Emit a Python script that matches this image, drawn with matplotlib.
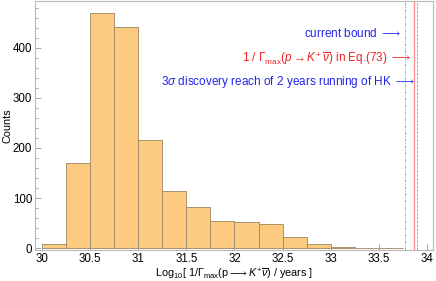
import matplotlib.pyplot as plt
import numpy as np

# histogram of log10 lifetimes, bin width 0.25 starting at 30
bin_edges = [30.0, 30.25, 30.5, 30.75, 31.0, 31.25, 31.5, 31.75, 32.0,
             32.25, 32.5, 32.75, 33.0, 33.25, 33.5, 33.75]
counts = [9, 171, 469, 441, 215, 114, 82, 55, 52, 48, 22, 8, 3, 1, 1]

current_bound = 33.77
gamma_max = 33.87
hk_reach = 33.90

xticks = [30, 30.5, 31, 31.5, 32, 32.5, 33, 33.5, 34]
xticklabels = ["30", "30.5", "31", "31.5", "32", "32.5", "33", "33.5", "34"]
yticks = [0, 100, 200, 300, 400]

plt.rcParams["font.family"] = ["Liberation Sans", "DejaVu Sans"]
plt.rcParams["mathtext.fontset"] = "custom"
plt.rcParams["mathtext.rm"] = "Liberation Sans"
plt.rcParams["mathtext.it"] = "Liberation Sans:italic"
plt.rcParams["mathtext.bf"] = "Liberation Sans:bold"
plt.rcParams["mathtext.fallback"] = "stixsans"

fig = plt.figure(figsize=(4.36, 2.81), dpi=100)
ax = fig.add_axes([0.080, 0.110, 0.913, 0.887])

edges = np.array(bin_edges)
ax.bar(edges[:-1], counts, width=np.diff(edges), align="edge",
       color="#fdcb80", edgecolor="#9a8660", linewidth=0.6)

ax.axvline(current_bound, color="#9a9ae8", lw=0.7, ls=(0, (3, 1.5, 1, 1.5)))
ax.axvline(gamma_max, color="#ff8a8a", lw=0.9)
ax.axvline(hk_reach, color="#9a9ae8", lw=0.7, ls=(0, (2.5, 1.5)))

ax.text(current_bound - 0.03, 428, r"current bound $\longrightarrow$", color="#2222ee",
        fontsize=8.5, ha="right", va="center")
ax.text(gamma_max - 0.03, 378,
        r"1 / $\Gamma_{\rm max}(p \rightarrow K^{+}\,\overline{\nu})$ in Eq.(73) $\longrightarrow$",
        color="#ee2222", fontsize=8.5, ha="right", va="center")
ax.text(hk_reach - 0.02, 332,
        r"3$\sigma$ discovery reach of 2 years running of HK $\longrightarrow$",
        color="#2222ee", fontsize=8.5, ha="right", va="center")

ax.set_xlim(29.927, 34.062)
ax.set_ylim(-4, 494)
ax.set_xticks(xticks)
ax.set_xticklabels(xticklabels)
ax.set_yticks(yticks)
ax.set_yticks(np.arange(0, 481, 20), minor=True)
ax.tick_params(which="both", direction="in", colors="#999999", labelcolor="black",
               labelsize=8.3, width=0.6)
ax.tick_params(which="major", length=4)
ax.tick_params(which="minor", length=2)
ax.tick_params(axis="x", pad=2)
ax.tick_params(axis="y", pad=2)

for s in ax.spines.values():
    s.set_color("#b8b8b8")
    s.set_linewidth(0.8)

ax.set_xlabel(r"Log$_{10}$[ 1/$\Gamma_{\rm max}$(p$\longrightarrow$$K^{+}\overline{\nu}$) / years ]",
              fontsize=7.8, labelpad=1)
ax.set_ylabel("Counts", fontsize=7.8, labelpad=0)

fig.savefig("out.png", dpi=100, facecolor="white")
